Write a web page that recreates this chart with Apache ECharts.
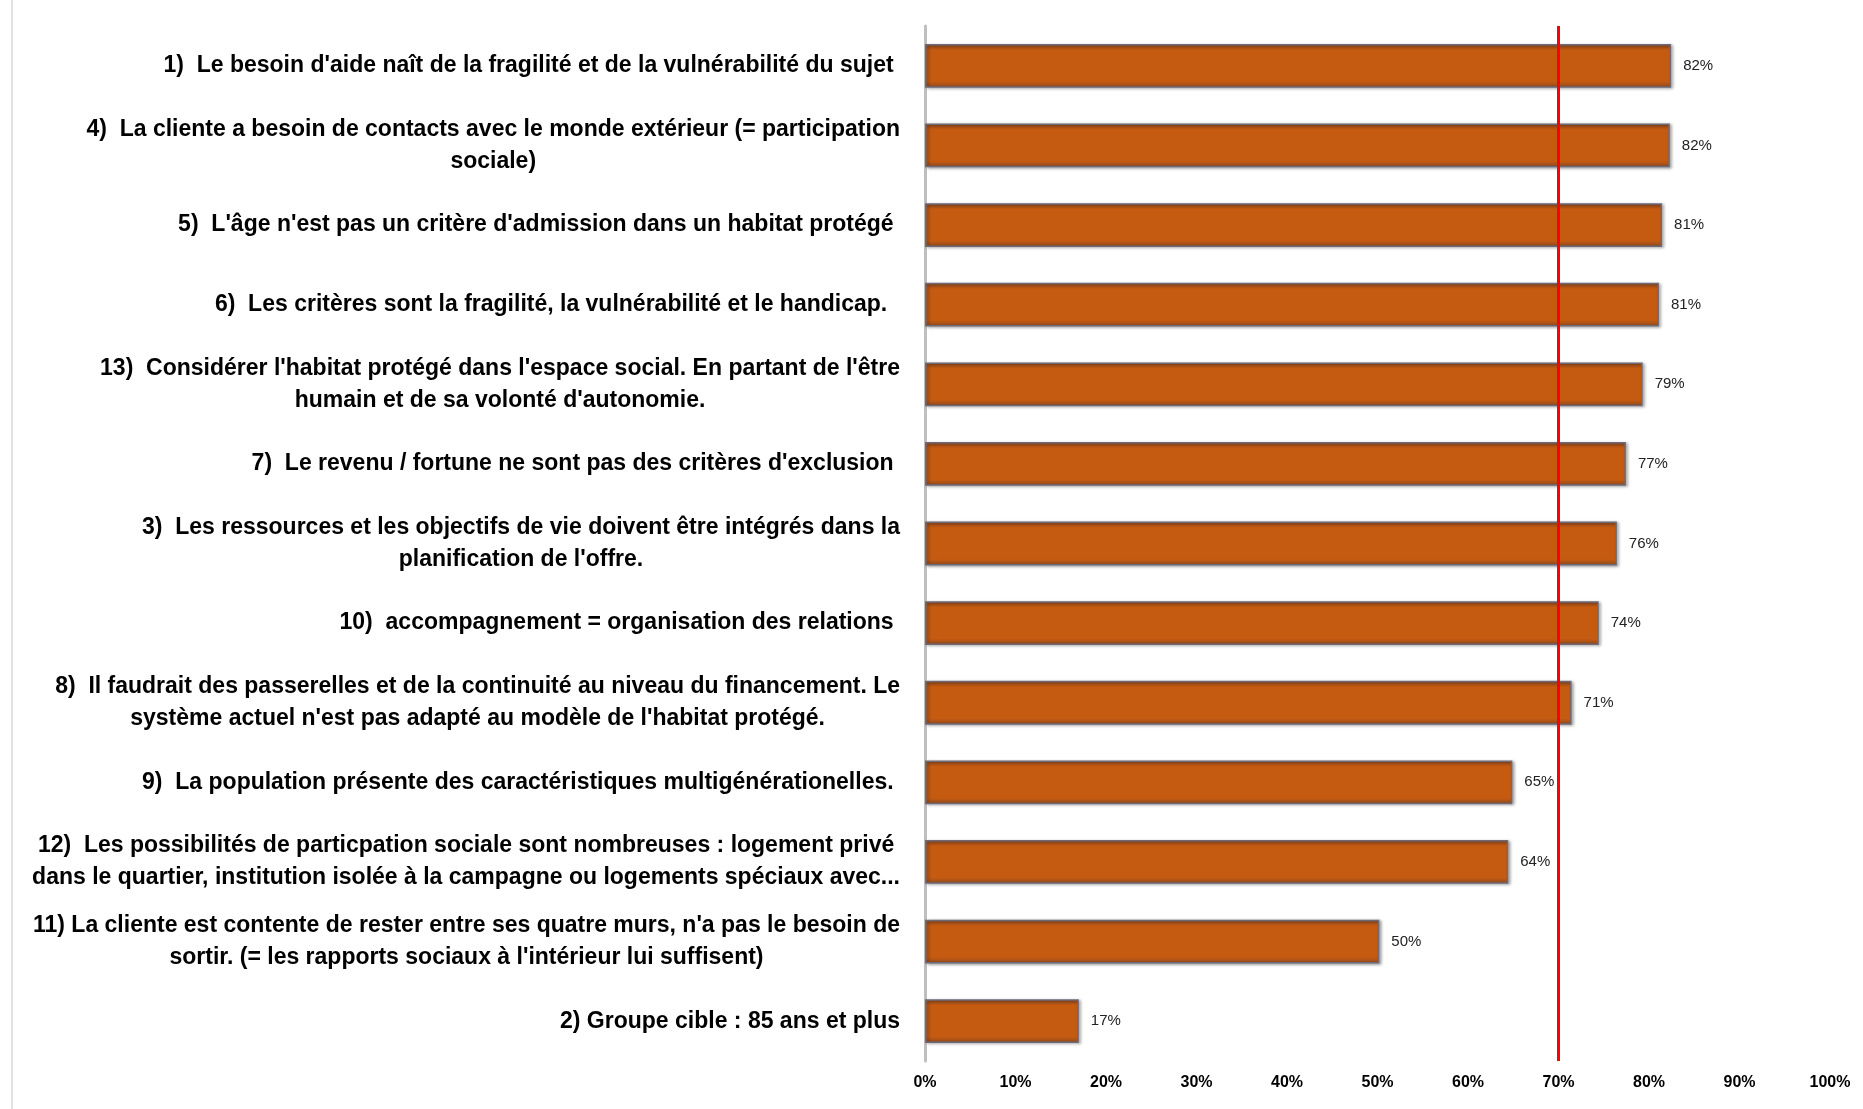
<!DOCTYPE html>
<html>
<head>
<meta charset="utf-8">
<script src="https://cdn.jsdelivr.net/npm/echarts@6/dist/echarts.min.js"></script>
<style>html,body{margin:0;padding:0;background:#fff}#c{width:1863px;height:1109px}</style>
</head>
<body>
<div id="c"></div>
<script>
const categories = [
  "1)  Le besoin d'aide naît de la fragilité et de la vulnérabilité du sujet ",
  "4)  La cliente a besoin de contacts avec le monde extérieur (= participation\nsociale)",
  "5)  L'âge n'est pas un critère d'admission dans un habitat protégé ",
  "6)  Les critères sont la fragilité, la vulnérabilité et le handicap.  ",
  "13)  Considérer l'habitat protégé dans l'espace social. En partant de l'être\nhumain et de sa volonté d'autonomie.",
  "7)  Le revenu / fortune ne sont pas des critères d'exclusion ",
  "3)  Les ressources et les objectifs de vie doivent être intégrés dans la\nplanification de l'offre.",
  "10)  accompagnement = organisation des relations ",
  "8)  Il faudrait des passerelles et de la continuité au niveau du financement. Le\nsystème actuel n'est pas adapté au modèle de l'habitat protégé.",
  "9)  La population présente des caractéristiques multigénérationelles. ",
  "12)  Les possibilités de particpation sociale sont nombreuses : logement privé\ndans le quartier, institution isolée à la campagne ou logements spéciaux avec...",
  "11) La cliente est contente de rester entre ses quatre murs, n'a pas le besoin de\nsortir. (= les rapports sociaux à l'intérieur lui suffisent)",
  "2) Groupe cible : 85 ans et plus"
];
const values = [82.45, 82.3, 81.45, 81.1, 79.3, 77.45, 76.45, 74.45, 71.45, 64.9, 64.45, 50.2, 17.0];
const threshold = 70;
const FONT = '"Liberation Sans Narrow", "Arial Narrow", "Liberation Sans", sans-serif';

const chart = echarts.init(document.getElementById('c'));
chart.setOption({
  backgroundColor: '#fff',
  animation: false,
  grid: { left: 925, right: 33, top: 26, bottom: 48, containLabel: false },
  graphic: [{
    type: 'line', shape: { x1: 12, y1: 0, x2: 12, y2: 1109 },
    style: { stroke: '#d9d9d9', lineWidth: 1.5 }
  }],
  xAxis: {
    type: 'value', min: 0, max: 100, interval: 10,
    axisLine: { show: false }, axisTick: { show: false }, splitLine: { show: false },
    axisLabel: { formatter: '{value}%', fontFamily: FONT, fontWeight: 'bold', fontSize: 16, color: '#000', margin: 14 }
  },
  yAxis: {
    type: 'category', inverse: true, data: categories,
    axisLine: { show: true, lineStyle: { color: '#bfbfbf', width: 3 } },
    axisTick: { show: false },
    axisLabel: {
      margin: 25, align: 'right',
      formatter: v => '{a|' + v + '}',
      rich: { a: { align: 'center', fontFamily: FONT, fontWeight: 'bold', fontSize: 23, lineHeight: 32, color: '#000' } }
    }
  },
  series: [{
    type: 'bar', data: values, barWidth: '55%',
    itemStyle: {
      color: new echarts.graphic.LinearGradient(0, 0, 0, 1, [
        { offset: 0, color: '#8f4a1f' },
        { offset: 0.14, color: '#c55a11' },
        { offset: 0.86, color: '#c55a11' },
        { offset: 1, color: '#8f4a1f' }
      ]),
      borderColor: '#6f6a78', borderWidth: 1.5,
      shadowColor: 'rgba(0,0,0,0.35)', shadowBlur: 3, shadowOffsetX: 2, shadowOffsetY: 1
    },
    label: {
      show: true, position: 'right', distance: 12,
      formatter: p => Math.round(p.value) + '%',
      fontFamily: FONT, fontSize: 15, color: '#222'
    },
    markLine: {
      silent: true, symbol: 'none', label: { show: false },
      lineStyle: { color: '#ff0000', width: 3, type: 'solid' },
      data: [{ xAxis: threshold }]
    }
  }]
});
</script>
</body>
</html>
